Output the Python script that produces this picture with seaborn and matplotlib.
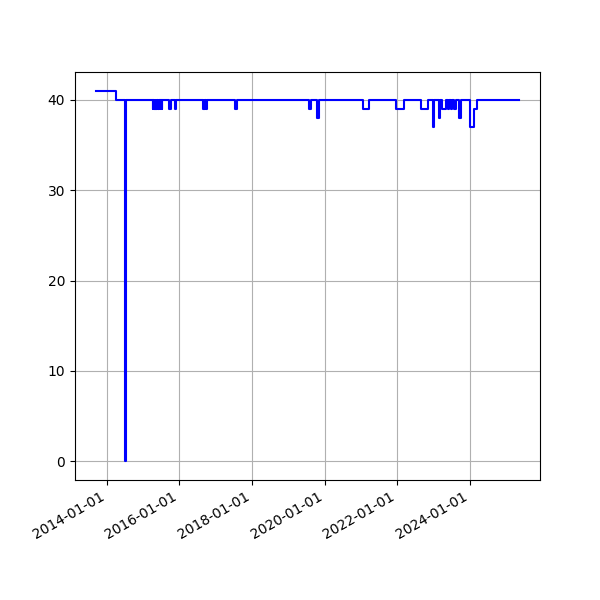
import matplotlib
matplotlib.use("Agg")
import matplotlib.pyplot as plt
import matplotlib.dates as mdates
import seaborn as sns
import pandas as pd

# change points (date where value starts) and values (step-post)
dates = [
    "2013-09-15", "2014-04-04", "2014-07-02", "2014-07-08",
    "2015-04-06", "2015-04-13", "2015-04-18", "2015-04-26",
    "2015-05-03", "2015-05-10", "2015-05-15", "2015-05-23",
    "2015-06-02", "2015-06-10", "2015-06-15", "2015-06-23",
    "2015-06-28", "2015-07-04", "2015-07-07", "2015-07-12",
    "2015-09-17", "2015-10-04", "2015-11-13", "2015-11-26",
    "2016-08-27", "2016-09-04", "2016-09-09", "2016-09-18",
    "2016-09-23", "2016-10-06",
    "2017-07-17", "2017-08-03",
    "2019-08-02", "2019-08-22", "2019-10-18", "2019-11-07",
    "2021-01-22", "2021-03-23", "2021-12-17", "2022-03-13",
    "2022-08-27", "2022-11-05", "2022-12-25", "2023-01-11",
    "2023-02-21", "2023-03-06", "2023-03-26", "2023-05-05",
    "2023-05-25", "2023-06-09", "2023-06-24", "2023-07-09",
    "2023-07-29", "2023-08-18", "2023-09-19", "2023-10-09",
    "2024-01-06", "2024-02-15", "2024-03-16", "2025-05-09",
]
values = [
    41, 40, 0, 40,
    39, 40, 39, 40,
    39, 40, 39, 40,
    39, 40, 39, 40,
    39, 40, 39, 40,
    39, 40, 39, 40,
    39, 40, 39, 40,
    39, 40,
    39, 40,
    39, 40, 38, 40,
    39, 40, 39, 40,
    39, 40, 37, 40,
    38, 40, 39, 40,
    39, 40, 39, 40,
    39, 40, 38, 40,
    37, 39, 40, 40,
]

df = pd.DataFrame({"date": pd.to_datetime(dates), "value": values})

fig, ax = plt.subplots(figsize=(6, 6), dpi=100)
sns.lineplot(data=df, x="date", y="value", ax=ax, color="blue",
             drawstyle="steps-post", linewidth=1.5)
ax.grid(True)
ax.set_xlabel("")
ax.set_ylabel("")
ax.xaxis.set_major_locator(mdates.YearLocator(2))
ax.xaxis.set_major_formatter(mdates.DateFormatter("%Y-%m-%d"))
ax.set_yticks([0, 10, 20, 30, 40])
fig.autofmt_xdate()
fig.savefig("out.png", dpi=100)
